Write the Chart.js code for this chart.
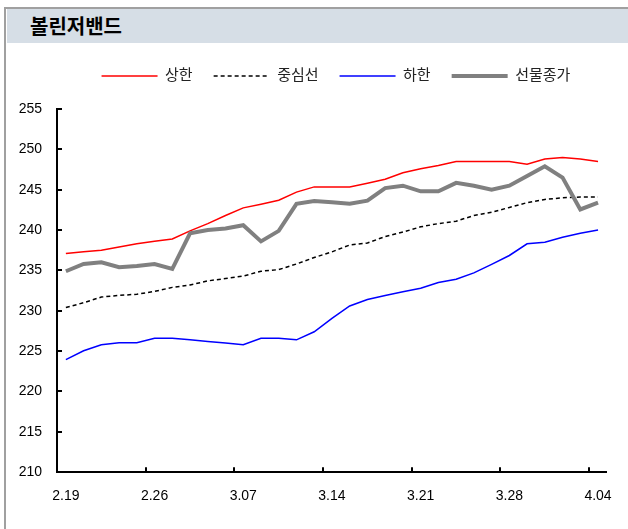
<!DOCTYPE html>
<html>
<head>
<meta charset="utf-8">
<script src="https://cdn.jsdelivr.net/npm/chart.js@4.4.1/dist/chart.umd.min.js"></script>
<style>
html, body { margin: 0; padding: 0; background: #fff; }
body { width: 628px; height: 529px; position: relative; overflow: hidden; }
#frame { position: absolute; left: 4px; top: 7px; width: 640px; height: 540px; border-left: 2px solid #a0a0a0; border-top: 2px solid #a0a0a0; }
#title { position: absolute; left: 7px; top: 9px; width: 621px; height: 34px; background: #d6dee6; }
#title span { position: absolute; left: 23px; top: 2px; line-height: 42px; font: bold 20px "Noto Sans CJK KR", sans-serif; color: #000; }
#wrap { position: absolute; left: 8px; top: 44px; width: 620px; height: 485px; }
</style>
</head>
<body>
<div id="frame"></div>
<div id="title"><span>볼린저밴드</span></div>
<div id="wrap"><canvas id="chart" width="620" height="485"></canvas></div>
<script>
// x축 라벨 (5영업일 간격)
const tickLabels = ['2.19', '2.26', '3.07', '3.14', '3.21', '3.28', '4.04'];
const labelEvery = 5;
const pointCount = 31;
const categories = Array.from({ length: pointCount }, (_, i) => i % labelEvery === 0 ? tickLabels[i / labelEvery] : '');

const upperBand = [237.1, 237.3, 237.5, 237.9, 238.3, 238.6, 238.9, 239.9, 240.8, 241.8,
    242.75, 243.2, 243.7, 244.7, 245.35, 245.35, 245.35, 245.8, 246.3, 247.1,
    247.6, 248.0, 248.5, 248.5, 248.5, 248.5, 248.15, 248.8, 249.0, 248.8, 248.5];
const middleBand = [230.4, 231.0, 231.7, 231.9, 232.05, 232.4, 232.9, 233.2, 233.7, 234.0,
    234.3, 234.9, 235.1, 235.8, 236.6, 237.3, 238.15, 238.4, 239.2, 239.75,
    240.4, 240.8, 241.1, 241.8, 242.2, 242.8, 243.4, 243.8, 244.0, 244.1, 244.1];
const lowerBand = [223.95, 225.05, 225.8, 226.05, 226.05, 226.6, 226.6, 226.4, 226.2, 226.0,
    225.8, 226.6, 226.6, 226.4, 227.4, 229.05, 230.6, 231.4, 231.9, 232.35,
    232.8, 233.5, 233.9, 234.7, 235.75, 236.85, 238.3, 238.5, 239.1, 239.6, 240.0];
const futuresClose = [234.9, 235.8, 236.0, 235.4, 235.55, 235.8, 235.2, 239.6, 240.0, 240.2,
    240.6, 238.6, 239.9, 243.25, 243.6, 243.45, 243.25, 243.65, 245.2, 245.5,
    244.8, 244.8, 245.85, 245.5, 245.0, 245.5, 246.7, 247.9, 246.5, 242.55, 243.4];

const yMin = 210, yMax = 255, yStep = 5;

Chart.defaults.font.family = '"Liberation Sans", "Noto Sans CJK KR", sans-serif';
Chart.defaults.color = '#000';

// legend: extra space below it, small shift to the right
const legendSpacing = {
    id: 'legendSpacing',
    beforeLayout(chart) {
        const legend = chart.legend;
        if (!legend || legend._patched) return;
        const fit = legend.fit;
        legend.fit = function () {
            fit.call(this);
            this.height += 15.5;
        };
        legend._patched = true;
    },
    afterLayout(chart) {
        chart.legend.left += 4;
        chart.legend.right += 4;
    }
};

// tick marks drawn inside the plot, like the original
const innerTicks = {
    id: 'innerTicks',
    afterDraw(chart) {
        const { ctx, chartArea: a, scales: { x, y } } = chart;
        ctx.save();
        ctx.strokeStyle = '#000';
        ctx.lineWidth = 2;
        ctx.beginPath();
        y.ticks.forEach(t => {
            const py = Math.round(y.getPixelForValue(t.value));
            ctx.moveTo(a.left, py);
            ctx.lineTo(a.left + 5, py);
        });
        for (let i = labelEvery; i < categories.length; i += labelEvery) {
            const px = Math.round((x.getPixelForValue(i - 1) + x.getPixelForValue(i)) / 2);
            ctx.moveTo(px, a.bottom);
            ctx.lineTo(px, a.bottom - 5);
        }
        ctx.stroke();
        ctx.restore();
    }
};

const ctx = document.getElementById('chart').getContext('2d');
new Chart(ctx, {
    type: 'line',
    data: {
        labels: categories,
        datasets: [
            { label: '상한', data: upperBand, borderColor: '#ff0000', borderWidth: 1.5, order: 1 },
            { label: '중심선', data: middleBand, borderColor: '#000000', borderWidth: 1.5, borderDash: [4, 3], order: 1 },
            { label: '하한', data: lowerBand, borderColor: '#0000ff', borderWidth: 1.5, order: 1 },
            { label: '선물종가', data: futuresClose, borderColor: '#808080', borderWidth: 4, order: 0 }
        ]
    },
    options: {
        responsive: false,
        animation: false,
        elements: {
            point: { radius: 0, pointStyle: 'line' },
            line: { tension: 0, fill: false }
        },
        layout: { padding: { left: 0, right: 18, top: 3.5, bottom: 8 } },
        plugins: {
            legend: {
                position: 'top',
                fullSize: false,
                labels: {
                    usePointStyle: true,
                    pointStyleWidth: 56,
                    padding: 21,
                    color: '#222',
                    font: { size: 15 },
                    sort: (a, b) => a.datasetIndex - b.datasetIndex,
                    // point style drops the dash, so put it back from the dataset
                    generateLabels: chart => Chart.defaults.plugins.legend.labels.generateLabels(chart).map(item => {
                        item.lineDash = chart.data.datasets[item.datasetIndex].borderDash || [];
                        return item;
                    })
                }
            },
            tooltip: { enabled: false }
        },
        scales: {
            x: {
                offset: true,
                grid: { display: false, drawTicks: false },
                border: { color: '#000', width: 2 },
                ticks: {
                    autoSkip: false,
                    maxRotation: 0,
                    padding: 16,
                    font: { size: 14 }
                }
            },
            y: {
                min: yMin,
                max: yMax,
                grid: { display: false, drawTicks: false },
                border: { color: '#000', width: 2 },
                ticks: { stepSize: yStep, padding: 15, font: { size: 14 } },
                afterFit: scale => { scale.width = 49; }
            }
        }
    },
    plugins: [legendSpacing, innerTicks]
});
</script>
</body>
</html>
